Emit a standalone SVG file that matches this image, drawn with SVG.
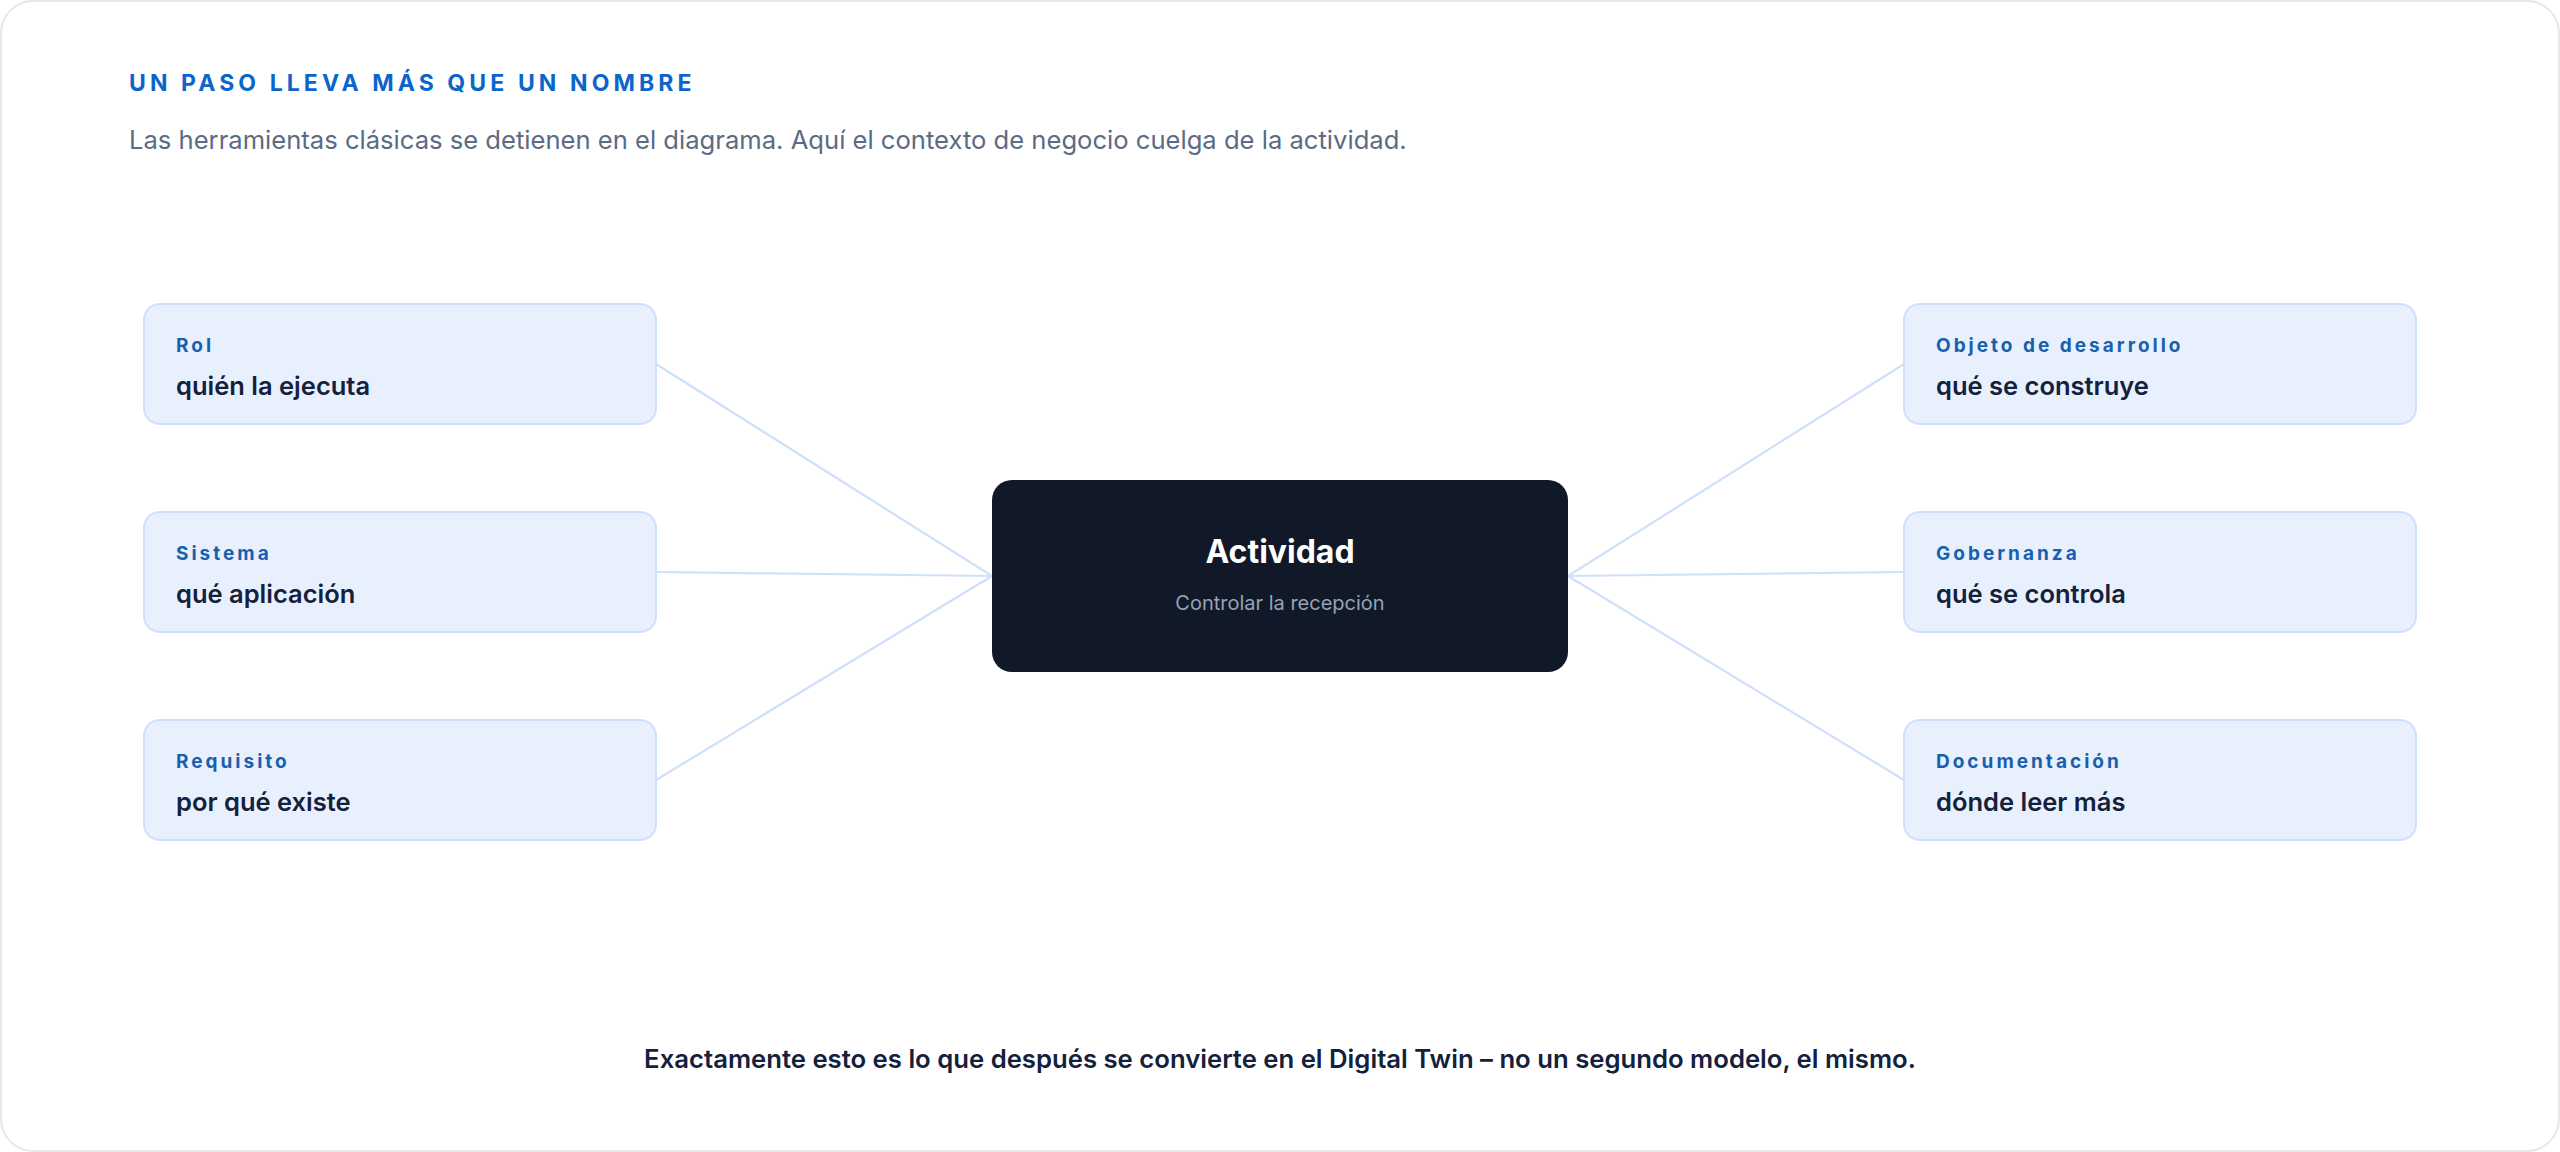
<svg xmlns="http://www.w3.org/2000/svg" width="2560" height="1152" viewBox="0 0 2560 1152">
<style>
.card{fill:#ffffff;stroke:#e5e7eb;stroke-width:2}
.box{fill:#e8f0fe;stroke:#cfe0fb;stroke-width:2}
.lbl{font-family:Inter,"Noto Sans",sans-serif;font-size:19px;font-weight:700;fill:#1a5fae;letter-spacing:3px}
.val{font-family:Inter,"Noto Sans",sans-serif;font-size:25.5px;font-weight:600;fill:#14213d}
.conn line{stroke:#cfe0fb;stroke-width:2.2;fill:none}
</style>
<rect class="card" x="1" y="1" width="2558" height="1150" rx="32"/>
<text x="129" y="91" font-family="Inter,'Noto Sans',sans-serif" font-size="23" font-weight="700" fill="#0b66cc" letter-spacing="4.1">UN PASO LLEVA MÁS QUE UN NOMBRE</text>
<text x="129" y="149" font-family="Inter,'Noto Sans',sans-serif" font-size="25.6" fill="#5b6b84">Las herramientas clásicas se detienen en el diagrama. Aquí el contexto de negocio cuelga de la actividad.</text>
<g id="connectors" class="conn">
<line x1="656" y1="364" x2="992" y2="576"/>
<line x1="656" y1="572" x2="992" y2="576"/>
<line x1="656" y1="780" x2="992" y2="576"/>
<line x1="1904" y1="364" x2="1568" y2="576"/>
<line x1="1904" y1="572" x2="1568" y2="576"/>
<line x1="1904" y1="780" x2="1568" y2="576"/>
</g>
<g id="rol"><rect class="box" x="144" y="304" width="512" height="120" rx="16"/><text class="lbl" x="176" y="352">Rol</text><text class="val" x="176" y="395">quién la ejecuta</text></g>
<g id="sistema"><rect class="box" x="144" y="512" width="512" height="120" rx="16"/><text class="lbl" x="176" y="560">Sistema</text><text class="val" x="176" y="603">qué aplicación</text></g>
<g id="requisito"><rect class="box" x="144" y="720" width="512" height="120" rx="16"/><text class="lbl" x="176" y="768">Requisito</text><text class="val" x="176" y="811">por qué existe</text></g>
<g id="objeto"><rect class="box" x="1904" y="304" width="512" height="120" rx="16"/><text class="lbl" x="1936" y="352">Objeto de desarrollo</text><text class="val" x="1936" y="395">qué se construye</text></g>
<g id="gobernanza"><rect class="box" x="1904" y="512" width="512" height="120" rx="16"/><text class="lbl" x="1936" y="560">Gobernanza</text><text class="val" x="1936" y="603">qué se controla</text></g>
<g id="documentacion"><rect class="box" x="1904" y="720" width="512" height="120" rx="16"/><text class="lbl" x="1936" y="768">Documentación</text><text class="val" x="1936" y="811">dónde leer más</text></g>
<g id="actividad"><rect x="992" y="480" width="576" height="192" rx="20" fill="#111827"/><text x="1280" y="563" text-anchor="middle" font-family="Inter,'Noto Sans',sans-serif" font-size="32" font-weight="700" fill="#ffffff">Actividad</text><text x="1280" y="610" text-anchor="middle" font-family="Inter,'Noto Sans',sans-serif" font-size="20" fill="#94a3b8">Controlar la recepción</text></g>
<text x="1280" y="1068" text-anchor="middle" font-family="Inter,'Noto Sans',sans-serif" font-size="25.7" font-weight="600" fill="#14213d">Exactamente esto es lo que después se convierte en el Digital Twin – no un segundo modelo, el mismo.</text>
</svg>
